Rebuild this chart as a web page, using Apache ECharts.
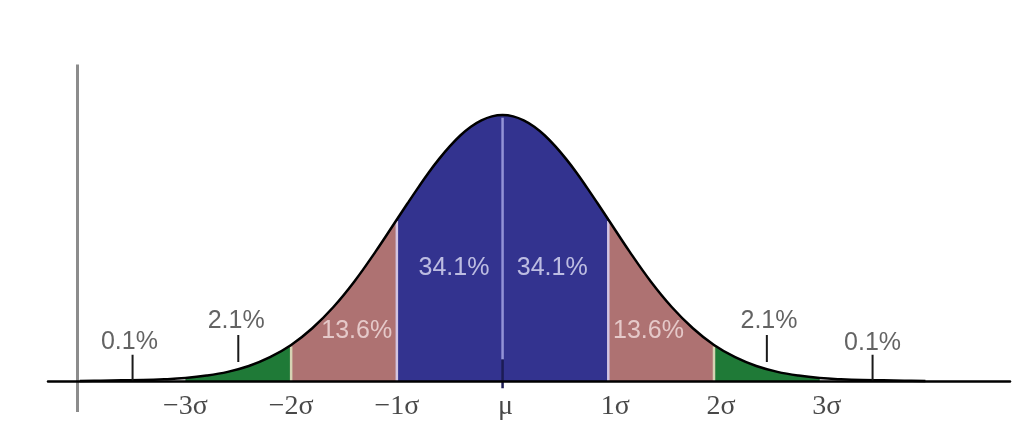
<!DOCTYPE html>
<html>
<head>
<meta charset="utf-8">
<script src="https://cdn.jsdelivr.net/npm/echarts@6/dist/echarts.min.js"></script>
<style>html,body{margin:0;padding:0;background:#fff;}#c{width:1019px;height:428px;}</style>
</head>
<body>
<div id="c"></div>
<script>
// Curve (x in σ units, height relative to the peak)
const curveX = [-4.0,-3.8,-3.6,-3.4,-3.2,-3.0,-2.8,-2.6,-2.4,-2.2,-2.0,-1.8,-1.6,-1.4,-1.2,-1.0,-0.9,-0.8,-0.7,-0.6,-0.5,-0.4,-0.3,-0.2,-0.1,0.0,
                0.1,0.2,0.3,0.4,0.5,0.6,0.7,0.8,0.9,1.0,1.2,1.4,1.6,1.8,2.0,2.2,2.4,2.6,2.8,3.0,3.2,3.4,3.6,3.8,4.0];
const curveY = [0.000,0.001,0.002,0.003,0.006,0.011,0.020,0.034,0.056,0.089,0.135,0.198,0.278,0.375,0.487,0.607,0.667,0.726,0.783,0.835,0.882,0.923,0.956,0.980,0.995,1.000,
                0.995,0.980,0.956,0.923,0.882,0.835,0.783,0.726,0.667,0.607,0.487,0.375,0.278,0.198,0.135,0.089,0.056,0.034,0.020,0.011,0.006,0.003,0.002,0.001,0.000];
// Shaded bands [from, to]
const bandFrom = [-3,-2,-1, 1, 2];
const bandTo   = [-2,-1, 1, 2, 3];
// Sigma tick labels
const tickValues = [-3,-2,-1,0,1,2,3];
const tickLabels = ['−3σ','−2σ','−1σ','μ','1σ','2σ','3σ'];
const tickLabelY = -0.095;
// Percentage labels
const pctText = ['0.1%','2.1%','13.6%','34.1%','34.1%','13.6%','2.1%','0.1%'];
const pctX    = [-3.53,-2.52,-1.38,-0.46,0.47,1.38,2.52,3.50];
const pctY    = [0.147,0.226,0.188,0.425,0.425,0.188,0.226,0.143];
// Small pointer ticks for the outer percentages [x, bottom, top]
const pointerX   = [-3.5,-2.5,2.5,3.5];
const pointerLo  = [0.000,0.071,0.071,0.000];
const pointerHi  = [0.098,0.173,0.173,0.098];
// Vertical axis position (σ units)
const yAxisAt = -4.02;

const pts = curveX.map((x,i)=>[x,curveY[i]]);
const yAt = x => curveY[curveX.findIndex(v=>Math.abs(v-x)<1e-9)];
const bandColors = ['#1f7a37','#ae7272','#33338f','#ae7272','#1f7a37'];
const sepColor = {'-2':'#d6d3b4','-1':'#d2c4e2','1':'#d2c4e2','2':'#d6d3b4'};

const series = [];
bandFrom.forEach((a,i)=>{
  const b = bandTo[i];
  series.push({type:'line', smooth:0.4, symbol:'none', silent:true, z:1,
    data: pts.filter(p=>p[0]>=a-1e-9 && p[0]<=b+1e-9),
    lineStyle:{width:0}, areaStyle:{color:bandColors[i], opacity:1}});
});
// separators
[-2,-1,1,2].forEach(x=>{
  series.push({type:'line', symbol:'none', silent:true, z:3,
    data:[[x,0],[x,yAt(x)-0.006]], lineStyle:{color:sepColor[String(x)], width:2.5}});
});
series.push({type:'line', symbol:'none', silent:true, z:3,
  data:[[0,0.08],[0,yAt(0)-0.01]], lineStyle:{color:'#9393d6', width:2.5}});
series.push({type:'line', symbol:'none', silent:true, z:3,
  data:[[0,-0.028],[0,0.08]], lineStyle:{color:'#1c1c55', width:2.5}});
// curve outline
series.push({type:'line', smooth:0.4, symbol:'none', silent:true, z:4,
  data: pts, lineStyle:{color:'#000', width:2.5},
  markLine:{silent:true, symbol:'none', label:{show:false},
    lineStyle:{color:'#8c8c8c', width:3, type:'solid'},
    data:[{xAxis:yAxisAt}]}});
// pointer ticks
pointerX.forEach((x,i)=>{
  series.push({type:'line', symbol:'none', silent:true, z:4,
    data:[[x,pointerLo[i]],[x,pointerHi[i]]], lineStyle:{color:'#1a1a1a', width:2}});
});
// percentage labels
series.push({type:'scatter', symbolSize:0, silent:true, z:6,
  data: pctText.map((t,i)=>({value:[pctX[i],pctY[i]], name:t,
    label:{color: (i>=2&&i<=5) ? (i===3||i===4 ? '#e0e0f6' : '#f3dede') : '#3c3c3c'}})),
  label:{show:true, position:'inside', formatter:p=>p.name,
    fontFamily:'Liberation Sans', fontSize:25, letterSpacing:1}});
// sigma labels
series.push({type:'scatter', symbolSize:0, silent:true, z:6,
  data: tickValues.map((v,i)=>({value:[v,tickLabelY], name:tickLabels[i],
    label:{offset:[v>0?7:(v===0?3:0),0]}})),
  label:{show:true, position:'inside', formatter:p=>p.name,
    fontFamily:'Liberation Serif', fontSize:28, letterSpacing:3, color:'#1a1a1a'}});

const chart = echarts.init(document.getElementById('c'), null, {renderer:'canvas'});
chart.setOption({
  animation:false,
  backgroundColor:'#fff',
  grid:{left:48, right:9, top:64.5, bottom:16, outerBoundsMode:'none'},
  xAxis:{type:'value', min:-4.3, max:4.8, z:10,
    axisLine:{show:true, onZero:true, lineStyle:{color:'#000', width:2.5}},
    axisTick:{show:false}, splitLine:{show:false}, axisLabel:{show:false}},
  yAxis:{type:'value', min:-0.117, max:1.19, show:false},
  series
});
</script>
</body>
</html>
